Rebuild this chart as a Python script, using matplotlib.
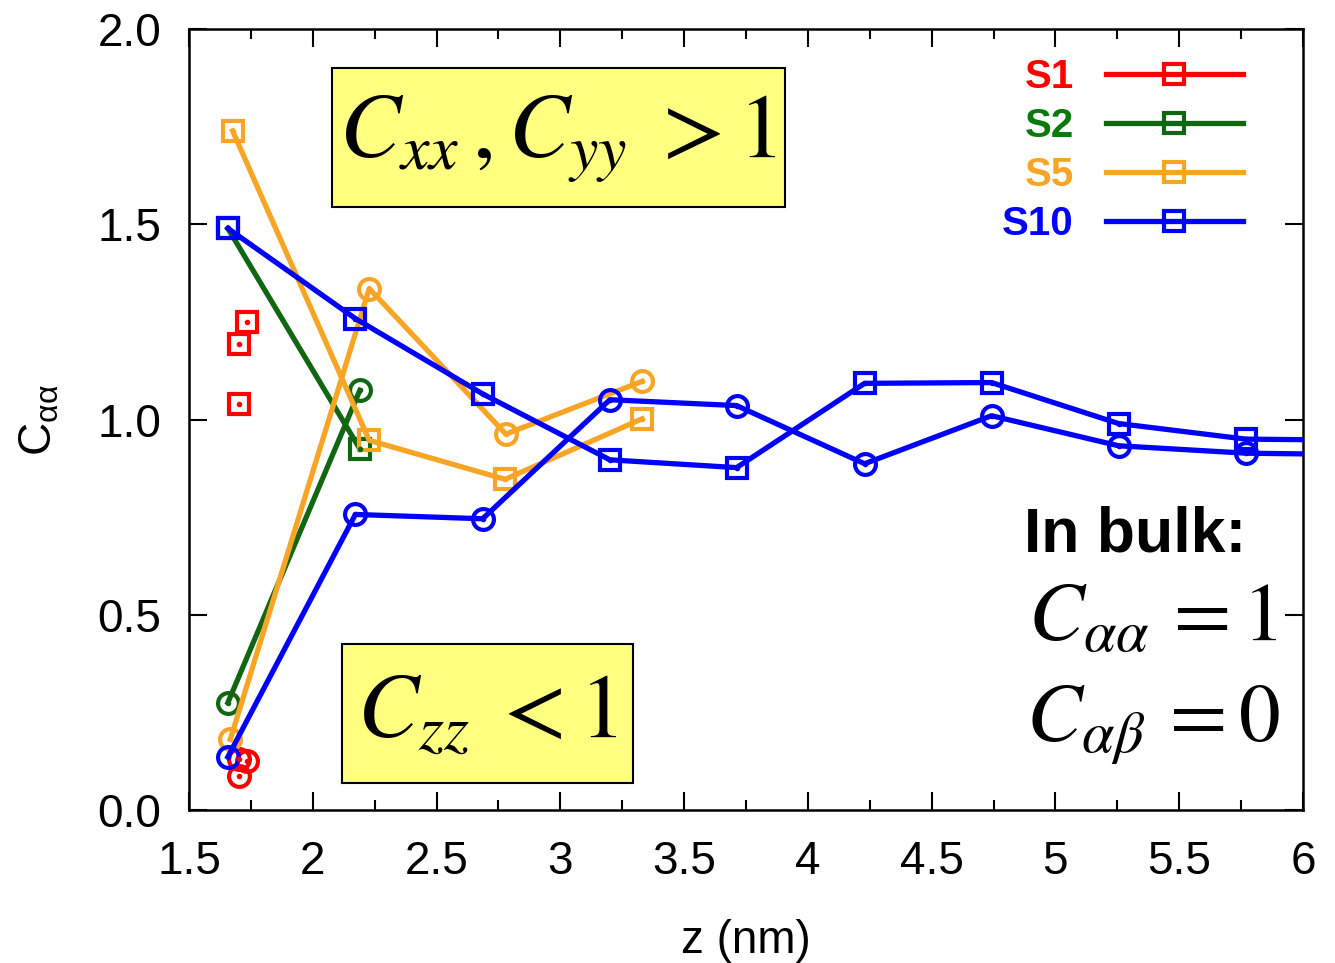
import numpy as np
import matplotlib
matplotlib.use("Agg")
import matplotlib.pyplot as plt
from matplotlib.lines import Line2D
from matplotlib.patches import Rectangle

plt.rcParams['font.family'] = ['Liberation Sans', 'DejaVu Sans']
plt.rcParams['mathtext.fontset'] = 'dejavusans'

# S1: isolated points (no connecting line)
s1_z = [1.70, 1.70, 1.734]
s1_sq = [1.039, 1.195, 1.250]
s1_ci = [0.130, 0.087, 0.125]

# S2
s2_z = [1.657, 2.19]
s2_sq = [1.490, 0.925]
s2_ci = [0.275, 1.075]

# S5
s5_z_sq = [1.676, 2.228, 2.777, 3.33]
s5_sq = [1.740, 0.947, 0.847, 1.002]
s5_z_ci = [1.667, 2.228, 2.78, 3.33]
s5_ci = [0.181, 1.336, 0.963, 1.098]

# S10
s10_z = [1.657, 2.172, 2.686, 3.20, 3.712, 4.229, 4.742, 5.255, 5.77, 6.28]
s10_sq = [1.490, 1.259, 1.066, 0.897, 0.877, 1.093, 1.095, 0.990, 0.950, 0.947]
s10_ci = [0.136, 0.757, 0.746, 1.051, 1.036, 0.887, 1.010, 0.933, 0.914, 0.910]

labels = ['S1', 'S2', 'S5', 'S10']
colors = ['#ff0000', '#116611', '#f8a424', '#0000ff']
text_colors = ['#ff0000', '#0a7a0a', '#f8a424', '#0000ff']

fig = plt.figure(figsize=(13.35, 9.63), dpi=100)
ax = fig.add_axes([0.1416, 0.159, 0.8344, 0.8105])

lw = 3.8
ms = 15
mew = 3.0


def series(x, y, color, marker, line=True):
    ax.plot(x, y, color=color, lw=lw if line else 0, marker=marker, ms=ms,
            mfc='none', mew=mew, ls='-' if line else 'none', zorder=3)
    ax.plot(x, y, color=color, marker='o', ms=3, ls='none', zorder=4)


series(s1_z, s1_sq, colors[0], 's', line=False)
series(s1_z, s1_ci, colors[0], 'o', line=False)
series(s2_z, s2_sq, colors[1], 's')
series(s2_z, s2_ci, colors[1], 'o')
series(s5_z_sq, s5_sq, colors[2], 's')
series(s5_z_ci, s5_ci, colors[2], 'o')
series(s10_z, s10_sq, colors[3], 's')
series(s10_z, s10_ci, colors[3], 'o')

ax.set_xlim(1.5, 6)
ax.set_ylim(0, 2)
ax.set_xticks(np.arange(1.5, 6.01, 0.5))
ax.set_xticklabels(['1.5', '2', '2.5', '3', '3.5', '4', '4.5', '5', '5.5', '6'])
ax.set_xticks(np.arange(1.75, 6, 0.5), minor=True)
ax.set_yticks(np.arange(0, 2.01, 0.5))
ax.set_yticklabels(['0.0', '0.5', '1.0', '1.5', '2.0'])
ax.tick_params(which='both', direction='in', top=True, right=True,
               width=1.5, labelsize=33)
ax.tick_params(which='major', length=13)
ax.tick_params(which='minor', length=7)
ax.tick_params(axis='x', pad=22)
ax.tick_params(axis='y', pad=20)
for sp in ax.spines.values():
    sp.set_linewidth(1.8)

ax.set_xlabel('z (nm)', fontsize=33, labelpad=25)
ax.set_ylabel(r'C$_{\mathregular{\alpha\alpha}}$', fontsize=33, labelpad=26)

# yellow annotation boxes
ax.add_patch(Rectangle((2.077, 1.545), 1.829, 0.357, facecolor='#ffff80',
                       edgecolor='black', lw=1.5, zorder=5))
ax.text(2.99, 1.72, r'$C_{xx}\,,C_{yy}\;>1$', fontsize=66, ha='center',
        va='center', math_fontfamily='stix', zorder=6)
ax.add_patch(Rectangle((2.118, 0.069), 1.175, 0.355, facecolor='#ffff80',
                       edgecolor='black', lw=1.5, zorder=5))
ax.text(2.705, 0.245, r'$C_{zz}\;<1$', fontsize=66, ha='center',
        va='center', math_fontfamily='stix', zorder=6)

ax.text(4.875, 0.663, 'In bulk:', fontsize=45, fontweight='bold',
        ha='left', va='baseline')
ax.text(4.89, 0.432, r'$C_{\alpha\alpha}\,{=}1$', fontsize=60, ha='left',
        va='baseline', math_fontfamily='stix')
ax.text(4.88, 0.175, r'$C_{\alpha\beta}\,{=}0$', fontsize=60, ha='left',
        va='baseline', math_fontfamily='stix')

handles = [Line2D([], [], color=c, lw=lw, marker='s', ms=ms, mfc='none',
                  mew=mew) for c in colors]
leg = ax.legend(handles, labels, loc='upper right',
                bbox_to_anchor=(0.946, 0.963), frameon=False,
                markerfirst=False, handlelength=3.4, handletextpad=0.8,
                labelspacing=0.27, borderpad=0, borderaxespad=0,
                prop={'size': 29, 'weight': 'bold'})
for t, c in zip(leg.get_texts(), text_colors):
    t.set_color(c)

fig.savefig('out.png', dpi=100)
